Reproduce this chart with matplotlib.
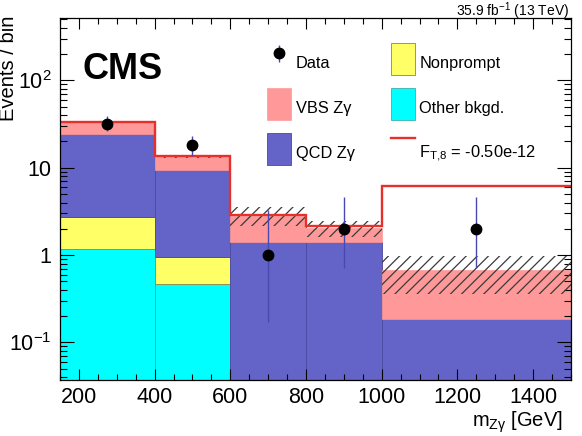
import numpy as np
import matplotlib
matplotlib.use("Agg")
import matplotlib.pyplot as plt
from matplotlib.ticker import LogLocator, MultipleLocator, NullFormatter

plt.rcParams['font.family'] = ['Liberation Sans', 'DejaVu Sans']
plt.rcParams['mathtext.fontset'] = 'custom'
plt.rcParams['mathtext.rm'] = 'Liberation Sans'
plt.rcParams['mathtext.it'] = 'Liberation Sans:italic'
plt.rcParams['hatch.linewidth'] = 0.9

# ---------------- data ----------------
edges = [150, 400, 600, 800, 1000, 1500]
other_bkg = [1.17, 0.47, 0.0, 0.0, 0.0]
nonprompt = [1.54, 0.47, 0.0, 0.0, 0.0]
qcd_zg = [21.7, 8.56, 1.43, 1.43, 0.187]
vbs_zg = [8.8, 4.0, 1.40, 0.60, 0.48]
bkg_unc = [1.0, 0.5, 0.70, 0.40, 0.31]
atgc_total = [33.3, 13.5, 2.88, 2.18, 6.12]
data_x = [275, 500, 700, 900, 1250]
data_y = [32, 18, 1, 2, 2]
data_lo = [5.6, 4.2, 0.83, 1.29, 1.29]
data_hi = [6.7, 5.3, 2.3, 2.64, 2.64]
ytick_vals = [0.1, 1, 10, 100]
ytick_labels = ['10$^{\\mathregular{-1}}$', '1', '10', '10$^{\\mathregular{2}}$']
xtick_vals = [200, 400, 600, 800, 1000, 1200, 1400]

c_other = '#00ffff'
c_np = '#ffff66'
c_qcd = '#6464c8'
c_vbs = '#ff9999'
c_red = '#e8302a'

fig = plt.figure(figsize=(5.82, 4.36), dpi=100)
ax = fig.add_axes([0.103, 0.128, 0.878, 0.831])

e = np.array(edges, dtype=float)
w = np.diff(e)
left = e[:-1]
o = np.array(other_bkg); n = np.array(nonprompt); q = np.array(qcd_zg); v = np.array(vbs_zg)

b_other = ax.bar(left, o, width=w, align='edge', color=c_other, edgecolor='#30a0a0', linewidth=0.5, zorder=1)
b_np = ax.bar(left, n, bottom=o, width=w, align='edge', color=c_np, edgecolor='#8a8a40', linewidth=0.6, zorder=1)
b_qcd = ax.bar(left, q, bottom=o + n, width=w, align='edge', color=c_qcd, edgecolor='#4a4aa0', linewidth=0.6, zorder=1)
b_vbs = ax.bar(left, v, bottom=o + n + q, width=w, align='edge', color=c_vbs, edgecolor=c_vbs, linewidth=0.5, zorder=1)

tot = o + n + q + v
u = np.array(bkg_unc)
ax.bar(left, 2 * u, bottom=tot - u, width=w, align='edge', fill=False, hatch='///',
       edgecolor='#3a3a3a', linewidth=0, zorder=2)

red_line = ax.stairs(atgc_total, e, baseline=None, color=c_red, linewidth=1.7, zorder=3)
dat = ax.errorbar(data_x, data_y, yerr=[data_lo, data_hi], fmt='o', color='black', ms=7.5,
                  ecolor='#4848b0', elinewidth=1.0, capsize=0, zorder=4)

ax.set_yscale('log')
ax.set_xlim(150, 1500)
ax.set_ylim(0.037, 520)
ax.set_xticks(xtick_vals)
ax.xaxis.set_minor_locator(MultipleLocator(50))
ax.set_yticks(ytick_vals, labels=ytick_labels)
ax.yaxis.set_minor_locator(LogLocator(base=10, subs=np.arange(2, 10)))
ax.yaxis.set_minor_formatter(NullFormatter())

ax.tick_params(which='both', direction='in', top=True, right=True, labelsize=15.5, width=0.8)
ax.tick_params(axis='x', which='major', length=8, pad=5)
ax.tick_params(axis='x', which='minor', length=4)
ax.tick_params(axis='y', which='major', length=10, pad=6)
ax.tick_params(axis='y', which='minor', length=5)
for s in ax.spines.values():
    s.set_linewidth(0.9)
    s.set_zorder(5)

fig.text(9 / 582, 1 - 16 / 436, 'Events / bin', fontsize=14.5, rotation=90, ha='center', va='top')
ax.set_xlabel('m$_{\\mathregular{Z\u03b3}}$ [GeV]', fontsize=14.5, loc='right')
ax.xaxis.set_label_coords(0.984, -0.082)

ax.text(0.045, 0.8315, 'CMS', transform=ax.transAxes, fontsize=26, fontweight='bold', va='baseline', ha='left')
fig.text(569 / 582, 1 - 15.5 / 436, '35.9 fb$^{\\mathregular{-1}}$ (13 TeV)', fontsize=10, ha='right', va='baseline')

handles = [dat, b_vbs, b_qcd, b_np, b_other, red_line]
labels = ['Data', 'VBS Z\u03b3', 'QCD Z\u03b3', 'Nonprompt', 'Other bkgd.', 'F$_{\\mathregular{T{,}8}}$ = -0.50e-12']
leg = ax.legend(handles, labels, ncol=2, loc='upper left', bbox_to_anchor=(267 / 582, 1 - 43 / 436),
                bbox_transform=fig.transFigure, frameon=False, fontsize=11.8, handlelength=1.45,
                handleheight=2.6, labelspacing=0.82, handletextpad=0.3, columnspacing=2.2,
                borderpad=0, borderaxespad=0)
for t in leg.get_texts():
    t.set_position((0, -4))

fig.savefig('out.png', dpi=100)
